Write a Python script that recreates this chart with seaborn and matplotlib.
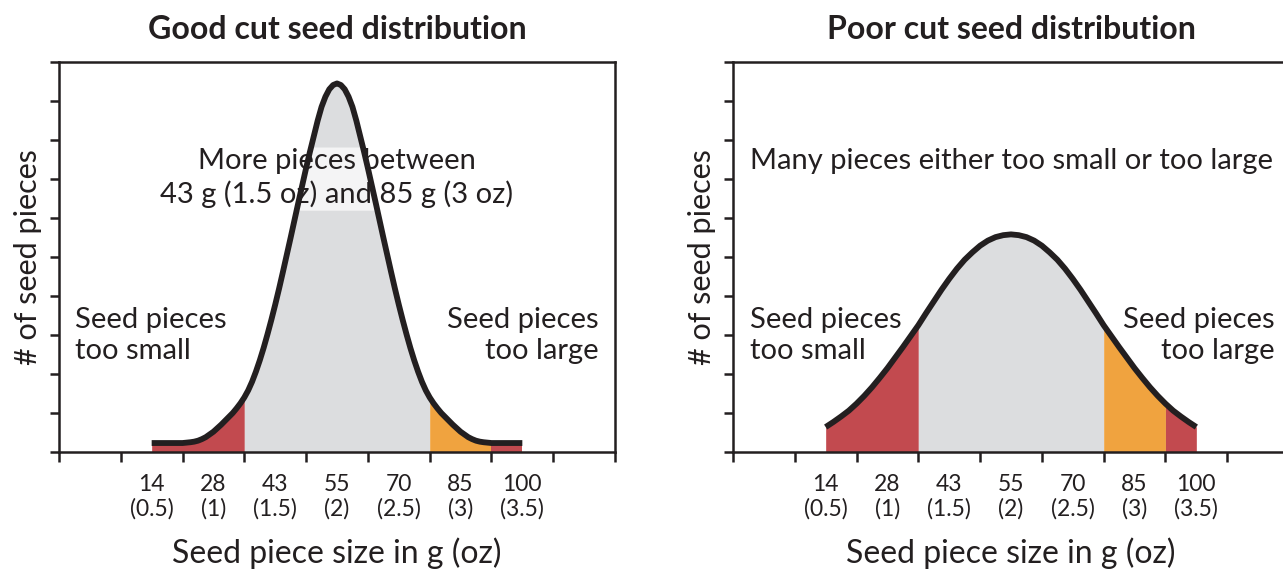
import numpy as np
import matplotlib
matplotlib.use("Agg")
import matplotlib.pyplot as plt
import seaborn as sns

# ---- data -------------------------------------------------------------
size_labels = ["14\n(0.5)", "28\n(1)", "43\n(1.5)", "55\n(2)",
               "70\n(2.5)", "85\n(3)", "100\n(3.5)"]
label_pos = [1.5, 2.5, 3.5, 4.5, 5.5, 6.5, 7.5]      # bin centres
bin_ticks = list(range(10))                           # bin edges
count_ticks = list(range(11))

# sample positions along the size axis (bin units)
good_x = np.arange(1.5, 7.5 + 1e-9, 0.0625)
poor_x = np.arange(1.5, 7.5 + 1e-9, 0.125)

good_counts = [
    0.23, 0.23, 0.23, 0.23, 0.23, 0.23, 0.23, 0.23, 0.23, 0.24,
    0.25, 0.265, 0.29, 0.33, 0.38, 0.45, 0.52, 0.61, 0.70, 0.80,
    0.90, 1.00, 1.12, 1.25, 1.40, 1.58, 1.80, 2.06, 2.35, 2.67,
    3.02, 3.39, 3.78, 4.19, 4.62, 5.06, 5.50, 5.95, 6.40, 6.84,
    7.28, 7.70, 8.10, 8.50, 8.85, 9.11, 9.30, 9.41, 9.45,
    9.41, 9.30, 9.11, 8.85, 8.50, 8.10, 7.70, 7.28, 6.84, 6.40,
    5.95, 5.50, 5.06, 4.62, 4.19, 3.78, 3.39, 3.02, 2.67, 2.35,
    2.06, 1.80, 1.58, 1.40, 1.25, 1.12, 1.00, 0.90, 0.80, 0.70,
    0.61, 0.52, 0.45, 0.38, 0.33, 0.29, 0.265, 0.25, 0.24, 0.23,
    0.23, 0.23, 0.23, 0.23, 0.23, 0.23, 0.23, 0.23,
]

poor_counts = [0.64, 0.77, 0.91, 1.06, 1.24, 1.44, 1.66, 1.90, 2.15, 2.42,
               2.69, 2.97, 3.25, 3.56, 3.86, 4.16, 4.44, 4.70, 4.93, 5.12,
               5.29, 5.42, 5.51, 5.56, 5.58, 5.56, 5.51, 5.42, 5.29, 5.12,
               4.93, 4.70, 4.44, 4.16, 3.86, 3.56, 3.25, 2.97, 2.69, 2.42,
               2.15, 1.90, 1.66, 1.44, 1.24, 1.06, 0.91, 0.77, 0.64]

zone_edges = [1.5, 3.0, 6.0, 7.0, 7.5]
zone_colors = ["#c24a4f", "#dcdddf", "#f0a33f", "#c24a4f"]

INK = "#231f20"

# ---- style ------------------------------------------------------------
sns.set_theme(style="ticks")
plt.rcParams["font.family"] = ["Lato", "DejaVu Sans"]
plt.rcParams["text.color"] = INK

W, H = 1283, 569
fig = plt.figure(figsize=(W / 100, H / 100), dpi=100)
ax_good = fig.add_axes([59 / W, 117 / H, 556 / W, 390 / H])
ax_poor = fig.add_axes([733 / W, 117 / H, 556 / W, 390 / H])


def draw_panel(ax, xs, counts, title, band=None):
    counts = np.asarray(counts)
    # coloured zones under the curve
    for lo, hi, col in zip(zone_edges[:-1], zone_edges[1:], zone_colors):
        mask = (xs >= lo - 1e-9) & (xs <= hi + 1e-9)
        ax.fill_between(xs[mask], 0, counts[mask], color=col,
                        linewidth=0, zorder=1)
    # lighter strip behind the annotation text
    if band is not None:
        b_lo, b_hi = band
        top = np.minimum(counts, b_hi)
        ax.fill_between(xs, b_lo, top, where=counts > b_lo,
                        color="white", alpha=0.7, linewidth=0, zorder=1.5)
    sns.lineplot(x=xs, y=counts, ax=ax, color=INK, linewidth=4.2,
                 sort=False, zorder=3, solid_capstyle="butt",
                 solid_joinstyle="round")

    ax.set_xlim(0, 9)
    ax.set_ylim(0, 10)
    ax.set_xticks(bin_ticks)
    ax.set_xticklabels([])
    ax.set_xticks(label_pos, minor=True)
    ax.set_xticklabels(size_labels, minor=True, fontsize=16.5,
                       linespacing=1.2)
    ax.set_yticks(count_ticks)
    ax.set_yticklabels([])
    ax.tick_params(axis="x", which="major", direction="out", length=7.5,
                   width=1.8, color=INK)
    ax.tick_params(axis="x", which="minor", length=0, pad=15.5, colors=INK)
    ax.tick_params(axis="y", direction="out", length=6.5, width=1.8,
                   color=INK)
    for sp in ax.spines.values():
        sp.set_linewidth(1.8)
        sp.set_color(INK)
        sp.set_visible(True)
    ax.set_xlabel("")
    ax.set_ylabel("")
    ax.text(0.5, 1.084, title, transform=ax.transAxes, ha="center",
            va="center", fontsize=23, fontweight="bold")
    ax.text(0.5, -0.26, "Seed piece size in g (oz)", transform=ax.transAxes,
            ha="center", va="center", fontsize=23)
    ax.text(-0.056, 0.5, "# of seed pieces", transform=ax.transAxes,
            ha="center", va="center", rotation=90, fontsize=22)


draw_panel(ax_good, good_x, good_counts, "Good cut seed distribution",
           band=(6.2, 7.82))
draw_panel(ax_poor, poor_x, poor_counts, "Poor cut seed distribution")

note = 21
ax_good.text(4.5, 7.02, "More pieces between\n43 g (1.5 oz) and 85 g (3 oz)",
             ha="center", va="center", fontsize=note, linespacing=1.27,
             zorder=4)
ax_good.text(0.26, 2.98, "Seed pieces\ntoo small", ha="left", va="center",
             fontsize=note, linespacing=1.24, zorder=4)
ax_good.text(8.74, 2.98, "Seed pieces\ntoo large", ha="right", va="center",
             fontsize=note, linespacing=1.24, zorder=4)

ax_poor.text(0.28, 7.45, "Many pieces either too small or too large",
             ha="left", va="center", fontsize=note, zorder=4)
ax_poor.text(0.28, 2.98, "Seed pieces\ntoo small", ha="left", va="center",
             fontsize=note, linespacing=1.24, zorder=4)
ax_poor.text(8.77, 2.98, "Seed pieces\ntoo large", ha="right", va="center",
             fontsize=note, linespacing=1.24, zorder=4)

fig.savefig("out.png", dpi=100, facecolor="white")
